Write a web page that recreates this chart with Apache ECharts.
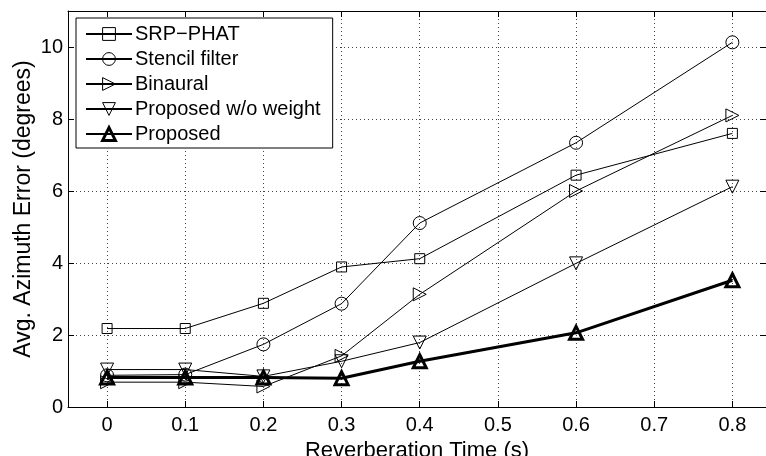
<!DOCTYPE html>
<html>
<head>
<meta charset="utf-8">
<script src="https://cdn.jsdelivr.net/npm/echarts@6/dist/echarts.min.js"></script>
<style>
html,body{margin:0;padding:0;background:#fff;}
#chart{width:766px;height:456px;}
</style>
</head>
<body>
<div id="chart"></div>
<script>
const xValues = [0, 0.1, 0.2, 0.3, 0.4, 0.6, 0.8];
const srpPhat = [2.18, 2.18, 2.88, 3.89, 4.12, 6.44, 7.60];
const stencilFilter = [0.88, 0.90, 1.74, 2.87, 5.11, 7.34, 10.13];
const binaural = [0.69, 0.69, 0.57, 1.42, 3.13, 6.00, 8.10];
const proposedWo = [1.04, 1.04, 0.85, 1.27, 1.79, 3.99, 6.12];
const proposed = [0.82, 0.82, 0.82, 0.80, 1.27, 2.06, 3.52];
const xTicks = [0, 0.1, 0.2, 0.3, 0.4, 0.5, 0.6, 0.7, 0.8];
const xTickLabels = ['0', '0.1', '0.2', '0.3', '0.4', '0.5', '0.6', '0.7', '0.8'];
const yTicks = [0, 2, 4, 6, 8, 10];
const seriesNames = ['SRP\u2212PHAT', 'Stencil filter', 'Binaural', 'Proposed w/o weight', 'Proposed'];

const FONT = "'Liberation Sans', Arial, Helvetica, sans-serif";
const pairs = arr => xValues.map((x, i) => [x, arr[i]]);

const CLEAR = 'rgba(255,255,255,0)';
const hollow = { color: CLEAR, borderColor: '#000', borderWidth: 1 };
const hollowBold = { color: CLEAR, borderColor: '#000', borderWidth: 3 };

const chart = echarts.init(document.getElementById('chart'), null, { renderer: 'canvas' });
const gridLine = { show: true, lineStyle: { color: '#444', type: [1, 3], width: 1 } };

chart.setOption({
  animation: false,
  backgroundColor: '#fff',
  textStyle: { fontFamily: FONT },
  grid: { left: 68, top: 11, right: 0, bottom: 49, containLabel: false, outerBoundsMode: 'none' },
  xAxis: [{
    type: 'value', min: -0.05, max: 0.843, position: 'bottom',
    name: 'Reverberation Time (s)', nameLocation: 'middle', nameGap: 31,
    nameTextStyle: { fontSize: 22, color: '#000', fontFamily: FONT },
    axisLine: { show: true, onZero: false, lineStyle: { color: '#000', width: 1 } },
    axisTick: { show: true, inside: true, length: 6, customValues: xTicks, lineStyle: { color: '#000' } },
    axisLabel: { customValues: xTicks, fontSize: 20, color: '#000', margin: 8, fontFamily: FONT,
      formatter: v => { const i = xTicks.findIndex(t => Math.abs(t - v) < 1e-6); return i >= 0 ? xTickLabels[i] : ''; } },
    splitLine: Object.assign({ customValues: xTicks }, gridLine)
  }, {
    type: 'value', min: -0.05, max: 0.843, position: 'top',
    axisLine: { show: true, onZero: false, lineStyle: { color: '#000', width: 1 } },
    axisTick: { show: true, inside: true, length: 6, customValues: xTicks, lineStyle: { color: '#000' } },
    axisLabel: { show: false },
    splitLine: { show: false }
  }],
  yAxis: [{
    type: 'value', min: 0, max: 11, interval: 2,
    name: 'Avg. Azimuth Error (degrees)', nameLocation: 'middle', nameGap: 33, nameMoveOverlap: false,
    nameTextStyle: { fontSize: 23, color: '#000', fontFamily: FONT },
    axisLine: { show: true, onZero: false, lineStyle: { color: '#000', width: 1 } },
    axisTick: { show: true, inside: true, length: 6, lineStyle: { color: '#000' } },
    axisLabel: { fontSize: 20, color: '#000', margin: 5, showMaxLabel: false, fontFamily: FONT,
      formatter: v => yTicks.indexOf(v) >= 0 ? String(v) : '' },
    splitLine: gridLine
  }, {
    type: 'value', min: 0, max: 11, interval: 2, position: 'right',
    axisLine: { show: true, onZero: false, lineStyle: { color: '#000' } },
    axisTick: { show: true, inside: true, length: 6 },
    axisLabel: { show: false }, splitLine: { show: false }
  }],
  legend: {
    orient: 'vertical', left: 76, top: 18,
    backgroundColor: '#fff', borderColor: '#000', borderWidth: 1,
    padding: [6, 12, 4, 9], itemGap: 5, itemWidth: 46, itemHeight: 16,
    textStyle: { fontSize: 20, color: '#000', fontFamily: FONT, padding: [0, 0, 0, -2] },
    data: seriesNames.map((n, i) => ({ name: n, itemStyle: i === 4 ? hollowBold : hollow }))
  },
  series: [
    { name: seriesNames[0], type: 'line', data: pairs(srpPhat), symbol: 'rect', symbolSize: 10,
      lineStyle: { color: '#000', width: 1 }, itemStyle: hollow, z: 2 },
    { name: seriesNames[1], type: 'line', data: pairs(stencilFilter), symbol: 'circle', symbolSize: 13,
      lineStyle: { color: '#000', width: 1 }, itemStyle: hollow, z: 2 },
    { name: seriesNames[2], type: 'line', data: pairs(binaural), symbol: 'triangle', symbolRotate: -90, symbolSize: 13,
      lineStyle: { color: '#000', width: 1 }, itemStyle: hollow, z: 2 },
    { name: seriesNames[3], type: 'line', data: pairs(proposedWo), symbol: 'triangle', symbolRotate: 180, symbolSize: 13,
      lineStyle: { color: '#000', width: 1 }, itemStyle: hollow, z: 2 },
    { name: seriesNames[4], type: 'line', data: pairs(proposed), symbol: 'triangle', symbolSize: 13,
      lineStyle: { color: '#000', width: 3 }, itemStyle: hollowBold, z: 3 }
  ]
});
</script>
</body>
</html>
